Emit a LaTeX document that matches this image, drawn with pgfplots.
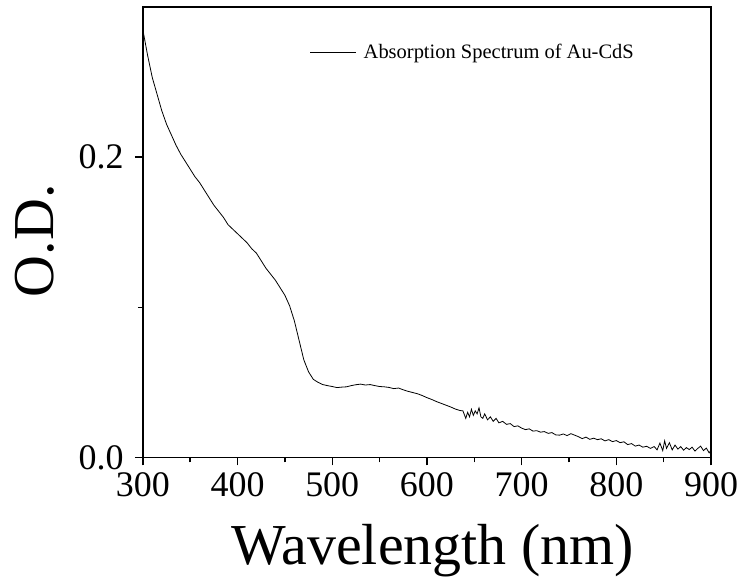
\documentclass[border=0pt]{standalone}
\usepackage{pgfplots}
\pgfplotsset{compat=1.18}
\usepackage{fontspec}
\setmainfont{Liberation Serif}
\begin{document}
\begin{tikzpicture}
\path (0,0) rectangle (741pt,583pt);
\begin{axis}[
  at={(143pt,125pt)}, anchor=south west,
  scale only axis, width=569pt, height=451pt,
  xmin=300, xmax=900, ymin=0, ymax=0.3,
  xtick={300,400,...,900}, minor x tick num=1,
  ytick={0,0.2}, minor ytick={0.1},
  yticklabels={0.0,0.2},
  tick align=outside, xtick pos=left, ytick pos=left,
  major tick length=8pt, minor tick length=5pt,
  every tick/.style={black, line width=1.4pt},
  axis line style={line width=1.6pt},
  /pgf/number format/assume math mode=true,
  tick label style={font=\fontsize{36}{42}\selectfont},
  xticklabel style={/pgf/number format/1000 sep={}, inner sep=3pt, yshift=-4pt},
  yticklabel style={inner sep=3pt, xshift=-8pt},
  xlabel={Wavelength (nm)}, ylabel={O.D.},
  label style={font=\fontsize{58}{66}\selectfont},
  xlabel style={at={(axis description cs:0.51,-0.237)}, anchor=base},
  ylabel style={at={(axis description cs:-0.19,0.481)}, anchor=center},
  legend style={draw=none, fill=none, at={(axis description cs:0.868,0.90)}, anchor=east,
    font=\fontsize{20.5}{24}\selectfont, inner sep=0pt},
  legend cell align=left,
  legend image code/.code={\draw[#1] (0pt,0pt) -- (46pt,0pt);},
]
\addplot[black, line width=0.8pt] coordinates {
(300,0.285)(305,0.268)(310,0.253)(315,0.242)(320,0.231)(325,0.222)(330,0.215)(335,0.208)
(340,0.202)(345,0.197)(350,0.192)(355,0.187)(360,0.183)(365,0.178)(370,0.173)(375,0.168)
(380,0.164)(385,0.160)(390,0.155)(395,0.152)(400,0.149)(405,0.146)(410,0.143)(415,0.139)
(420,0.136)(425,0.131)(430,0.126)(435,0.122)(440,0.118)(445,0.113)(450,0.108)(455,0.101)
(460,0.091)(465,0.078)(470,0.065)(475,0.057)(480,0.052)(485,0.050)(490,0.0485)(495,0.0478)
(500,0.0472)(505,0.0465)(510,0.0468)(515,0.0470)(520,0.0478)(525,0.0484)(530,0.0488)(535,0.0482)
(540,0.0485)(545,0.0478)(550,0.0472)(555,0.0470)(560,0.0466)(565,0.0458)(570,0.0462)(575,0.0450)
(580,0.0440)(585,0.0432)(590,0.0424)(595,0.0412)(600,0.0398)(605,0.0386)(610,0.0372)(615,0.0360)
(620,0.0348)(625,0.0336)(630,0.0322)(635,0.0312)(638,0.031)(641,0.026)(643,0.030)(645,0.027)
(647,0.032)(649,0.028)(651,0.031)(653,0.029)(655,0.033)(657,0.027)(659,0.026)(661,0.029)
(664,0.025)(667,0.027)(670,0.024)(673,0.026)(676,0.023)(680,0.024)(684,0.022)(688,0.0225)
(692,0.0205)(696,0.021)(700,0.0195)(704,0.0185)(708,0.019)(712,0.0175)(716,0.0178)(720,0.0168)
(724,0.0172)(728,0.016)(732,0.0165)(736,0.015)(740,0.0148)(744,0.0156)(748,0.0145)(752,0.0158)
(756,0.0148)(760,0.0138)(764,0.0125)(768,0.0135)(772,0.012)(776,0.0128)(780,0.0118)(784,0.0124)
(788,0.011)(792,0.0118)(796,0.0105)(800,0.0112)(804,0.0098)(808,0.0104)(812,0.0085)(816,0.0092)
(820,0.0075)(824,0.0082)(828,0.0068)(832,0.0074)(836,0.006)(840,0.0072)(843,0.005)(846,0.0095)
(849,0.0045)(851,0.011)(853,0.006)(856,0.0098)(859,0.005)(862,0.0082)(865,0.0055)(868,0.0072)
(871,0.0048)(874,0.0065)(877,0.0052)(880,0.0068)(883,0.0042)(886,0.006)(889,0.0075)(892,0.0045)
(895,0.0062)(898,0.003)(900,0.0048)
};
\addlegendentry{\hspace{5pt}Absorption Spectrum of Au-CdS}
\end{axis}
\end{tikzpicture}
\end{document}
